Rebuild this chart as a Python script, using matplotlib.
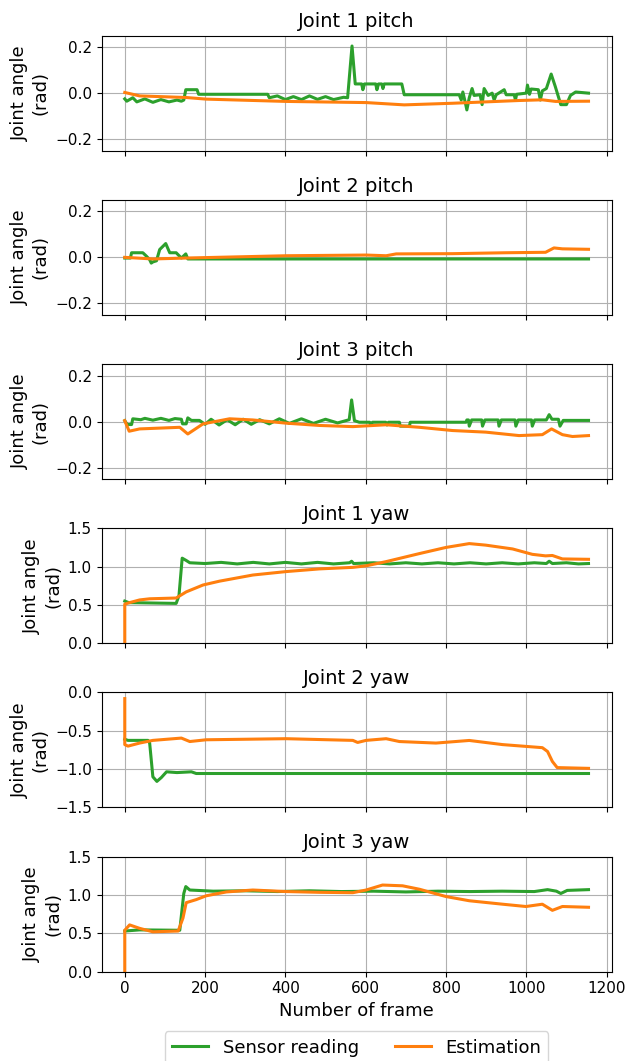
import matplotlib
matplotlib.use("Agg")
import matplotlib.pyplot as plt

# ----------------------------------------------------------- data
titles = ["Joint 1 pitch", "Joint 2 pitch", "Joint 3 pitch",
          "Joint 1 yaw", "Joint 2 yaw", "Joint 3 yaw"]

# Joint 1 pitch
j1p_sensor_f = [0, 5, 20, 30, 50, 70, 90, 110, 130, 141, 147, 152, 180, 184, 356, 360,
                380, 400, 420, 440, 460, 480, 500, 520, 545, 555, 566, 574, 590, 593, 597,
                625, 628, 632, 640, 643, 646, 690, 696, 833, 838, 842, 848, 852, 858, 865,
                870, 885, 890, 895, 905, 915, 920, 925, 945, 950, 970, 973, 976, 1000, 1003,
                1008, 1012, 1030, 1035, 1040, 1050, 1062, 1072, 1086, 1100, 1110, 1123, 1155]
j1p_sensor_v = [-0.025, -0.035, -0.02, -0.038, -0.025, -0.04, -0.028, -0.038, -0.03, -0.035,
                -0.03, 0.015, 0.015, -0.005, -0.005, -0.02, -0.012, -0.028, -0.015, -0.028,
                -0.012, -0.027, -0.015, -0.028, -0.018, -0.02, 0.205, 0.04, 0.04, 0.015, 0.04,
                0.04, 0.015, 0.04, 0.04, 0.02, 0.04, 0.04, -0.007, -0.007, -0.03, 0.005, -0.04,
                -0.073, -0.02, 0.02, -0.01, -0.007, -0.05, 0.02, -0.01, 0.0, -0.03, -0.007,
                0.015, -0.007, -0.007, -0.03, -0.005, 0.0, 0.035, -0.005, 0.018, 0.015, -0.03,
                0.01, 0.02, 0.083, 0.03, -0.05, -0.05, -0.01, 0.005, 0.0]
j1p_est_f = [0, 37, 153, 203, 402, 601, 696, 816, 982, 1040, 1073, 1155]
j1p_est_v = [0.003, -0.012, -0.019, -0.026, -0.036, -0.041, -0.051, -0.044, -0.032,
             -0.029, -0.036, -0.035]

# Joint 2 pitch
j2p_sensor_f = [0, 14, 17, 45, 54, 62, 66, 70, 79, 87, 102, 112, 128, 141, 152, 157, 1155]
j2p_sensor_v = [-0.003, -0.003, 0.02, 0.02, 0.005, -0.01, -0.025, -0.02, -0.015, 0.034,
                0.06, 0.02, 0.02, -0.003, 0.015, -0.007, -0.007]
j2p_est_f = [0, 70, 153, 402, 601, 651, 676, 816, 949, 1048, 1069, 1090, 1155]
j2p_est_v = [0.0, -0.007, -0.003, 0.007, 0.01, 0.007, 0.015, 0.016, 0.02, 0.022, 0.041,
             0.037, 0.035]

# Joint 3 pitch
j3p_sensor_f = [0, 6, 17, 20, 40, 50, 70, 90, 110, 125, 141, 144, 153, 157, 166, 186, 200,
                215, 235, 255, 275, 295, 315, 336, 360, 385, 410, 440, 470, 500, 530, 559,
                565, 572, 584, 610, 613, 617, 650, 653, 657, 684, 686, 709, 711, 850, 852,
                856, 858, 864, 889, 891, 897, 930, 932, 938, 972, 974, 980, 1013, 1015, 1021,
                1050, 1057, 1064, 1080, 1084, 1092, 1155]
j3p_sensor_v = [0.004, -0.013, -0.013, 0.012, 0.008, 0.014, 0.006, 0.014, 0.005, 0.013,
                0.01, -0.01, -0.01, 0.016, 0.005, 0.005, -0.012, 0.01, -0.015, 0.008, -0.014,
                0.01, -0.012, 0.008, -0.01, 0.012, -0.008, 0.012, -0.008, 0.01, -0.006, 0.008,
                0.094, 0.004, -0.003, -0.003, -0.015, -0.003, -0.003, -0.015, -0.003, -0.003,
                -0.02, -0.02, -0.003, -0.003, 0.007, 0.007, -0.02, 0.007, 0.007, -0.02, 0.007,
                0.007, -0.02, 0.007, 0.007, -0.02, 0.007, 0.007, -0.02, 0.007, 0.007, 0.03,
                0.01, 0.01, -0.02, 0.005, 0.005]
j3p_est_f = [0, 11, 37, 137, 157, 195, 261, 319, 402, 485, 568, 651, 734, 816, 899, 982,
             1040, 1063, 1090, 1115, 1155]
j3p_est_v = [0.004, -0.042, -0.032, -0.025, -0.054, -0.01, 0.012, 0.007, -0.007, -0.017,
             -0.022, -0.014, -0.025, -0.039, -0.046, -0.061, -0.057, -0.032, -0.057, -0.065,
             -0.061]

# Joint 1 yaw
j1y_sensor_f = [0, 10, 128, 135, 143, 153, 162, 200, 240, 280, 320, 360, 400, 440, 480, 520,
                560, 565, 570, 620, 660, 700, 740, 780, 820, 860, 900, 940, 980, 1020, 1050,
                1057, 1065, 1100, 1130, 1155]
j1y_sensor_v = [0.55, 0.53, 0.52, 0.62, 1.11, 1.08, 1.05, 1.04, 1.055, 1.035, 1.055, 1.035,
                1.055, 1.035, 1.055, 1.035, 1.05, 1.07, 1.04, 1.05, 1.035, 1.05, 1.035, 1.05,
                1.035, 1.05, 1.035, 1.05, 1.035, 1.05, 1.04, 1.07, 1.04, 1.05, 1.035, 1.04]
j1y_est_f = [0, 0, 12, 37, 62, 128, 153, 195, 236, 319, 402, 485, 568, 601, 651, 734, 800,
             858, 899, 966, 1015, 1048, 1065, 1090, 1155]
j1y_est_v = [0.0, 0.51, 0.53, 0.565, 0.58, 0.59, 0.67, 0.76, 0.81, 0.89, 0.935, 0.97, 0.99,
             1.01, 1.065, 1.17, 1.25, 1.30, 1.28, 1.23, 1.16, 1.14, 1.145, 1.10, 1.095]

# Joint 2 yaw
j2y_sensor_f = [0, 8, 58, 62, 70, 80, 91, 104, 130, 166, 178, 1155]
j2y_sensor_v = [-0.61, -0.625, -0.625, -0.66, -1.1, -1.16, -1.11, -1.035, -1.045, -1.035,
                -1.057, -1.057]
j2y_est_f = [0, 0, 8, 37, 70, 141, 162, 203, 402, 568, 580, 601, 651, 684, 775, 858, 941,
             1040, 1053, 1065, 1077, 1155]
j2y_est_v = [-0.08, -0.68, -0.70, -0.66, -0.625, -0.595, -0.64, -0.617, -0.603, -0.625,
             -0.652, -0.625, -0.603, -0.64, -0.66, -0.626, -0.68, -0.72, -0.77, -0.90,
             -0.98, -0.99]

# Joint 3 yaw
j3y_sensor_f = [0, 37, 137, 147, 152, 162, 220, 300, 380, 460, 540, 620, 700, 780, 860, 940,
                1020, 1053, 1075, 1086, 1102, 1155]
j3y_sensor_v = [0.53, 0.545, 0.54, 1.02, 1.11, 1.065, 1.05, 1.055, 1.045, 1.055, 1.045, 1.05,
                1.04, 1.05, 1.045, 1.05, 1.045, 1.07, 1.05, 1.02, 1.06, 1.07]
j3y_est_f = [0, 0, 12, 37, 70, 133, 145, 153, 178, 203, 253, 319, 402, 485, 568, 601, 642,
             692, 734, 800, 858, 941, 999, 1040, 1065, 1090, 1155]
j3y_est_v = [0.0, 0.54, 0.61, 0.565, 0.52, 0.53, 0.70, 0.90, 0.94, 0.99, 1.04, 1.065, 1.045,
             1.035, 1.03, 1.065, 1.13, 1.12, 1.075, 0.98, 0.925, 0.88, 0.85, 0.88, 0.80, 0.85,
             0.84]

sensor = [(j1p_sensor_f, j1p_sensor_v), (j2p_sensor_f, j2p_sensor_v), (j3p_sensor_f, j3p_sensor_v),
          (j1y_sensor_f, j1y_sensor_v), (j2y_sensor_f, j2y_sensor_v), (j3y_sensor_f, j3y_sensor_v)]
estimate = [(j1p_est_f, j1p_est_v), (j2p_est_f, j2p_est_v), (j3p_est_f, j3p_est_v),
            (j1y_est_f, j1y_est_v), (j2y_est_f, j2y_est_v), (j3y_est_f, j3y_est_v)]

ylims = [(-0.25, 0.25)] * 3 + [(0.0, 1.5), (-1.5, 0.0), (0.0, 1.5)]
yticks = [[-0.2, 0.0, 0.2]] * 3 + [[0.0, 0.5, 1.0, 1.5], [-1.5, -1.0, -0.5, 0.0],
                                   [0.0, 0.5, 1.0, 1.5]]

# ----------------------------------------------------------- chart
fig, axes = plt.subplots(6, 1, figsize=(6.27, 10.61), dpi=100, sharex=True)
fig.subplots_adjust(left=0.162, right=0.9756, top=0.9664, bottom=0.0842, hspace=0.428)

for i, ax in enumerate(axes):
    sf, sv = sensor[i]
    ef, ev = estimate[i]
    ax.plot(sf, sv, color="#2ca02c", lw=2.2, label="Sensor reading")
    ax.plot(ef, ev, color="#ff7f0e", lw=2.2, label="Estimation")
    ax.set_ylim(*ylims[i])
    ax.set_yticks(yticks[i])
    ax.set_title(titles[i], fontsize=14)
    ax.set_ylabel("Joint angle\n(rad)", fontsize=13)
    ax.tick_params(labelsize=11)
    ax.grid(True)

axes[-1].set_xticks([0, 200, 400, 600, 800, 1000, 1200])
axes[-1].set_xlabel("Number of frame", fontsize=13)
axes[-1].legend(loc="upper center", bbox_to_anchor=(0.5, -0.44), ncol=2, fontsize=13)

fig.savefig("out.png", dpi=100)
plt.close(fig)
